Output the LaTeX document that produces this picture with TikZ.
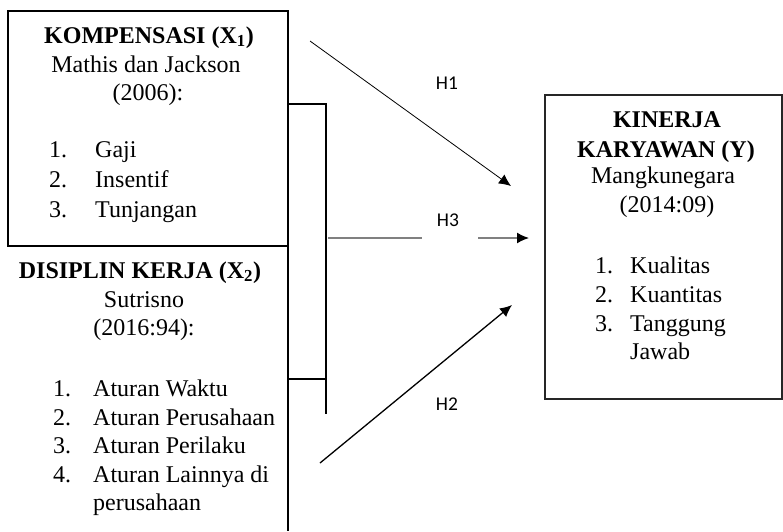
\documentclass[tikz,border=0pt]{standalone}
\usepackage{fontspec}
\setmainfont{Liberation Serif}
\newfontfamily\hypfont{Carlito}
\usetikzlibrary{arrows.meta}
\tikzset{>={Latex[length=12pt,width=11pt]}}
\usepackage{xcolor}
\colorlet{h3gray}{black!50}
\tikzstyle{frame}=[line width=1.8pt]
\tikzstyle{yframe}=[line width=1.1pt,draw=black!85]
\tikzstyle{txt}=[inner sep=0pt,anchor=base,font=\fontsize{24}{29}\selectfont]
\tikzstyle{head}=[txt,font=\fontsize{24}{29}\selectfont\bfseries]
\tikzstyle{item}=[txt,anchor=base west]
\tikzstyle{hyp}=[inner sep=0pt,font=\fontsize{19.5}{23}\selectfont\hypfont]

\begin{document}
\begin{tikzpicture}[x=1pt,y=-1pt]
  \useasboundingbox (0,0) rectangle (783,531);

  \coordinate (X1NW) at (  8,  11); % KOMPENSASI BOX
  \coordinate (X1SE) at (288, 246);
  \coordinate (X2B)  at (288, 531); % DISIPLIN EDGE
  \coordinate (BRT)  at (326, 104); % BRACKET
  \coordinate (BRM)  at (326, 379);
  \coordinate (BRB)  at (326, 414);
  \coordinate (YNW)  at (545,  95); % KINERJA BOX
  \coordinate (YSE)  at (782, 399);
  \coordinate (H1S)  at (310,  41); % ARROWS
  \coordinate (H1E)  at (511, 186);
  \coordinate (H2S)  at (320, 463);
  \coordinate (H2E)  at (512, 305);
  \coordinate (H3S)  at (328, 238);
  \coordinate (H3M1) at (422, 238);
  \coordinate (H3M2) at (478, 238);
  \coordinate (H3E)  at (529, 238);

  % BOXES
  \draw[frame] (X1NW) rectangle (X1SE);
  \draw[frame] (X1SE) -- (X2B);
  \draw[frame] (X1SE |- BRT) -- (BRT) -- (BRB);
  \draw[frame] (X1SE |- BRM) -- (BRM);
  \draw[yframe] (YNW) rectangle (YSE);

  % KOMPENSASI
  \node[head] (x1title) at (149,43) {KOMPENSASI (X\textsubscript{1})};
  \node[txt] (x1src) at (146,72) {Mathis dan Jackson};
  \node[txt] (x1year) at (148,100) {(2006):};
  \foreach \t [count=\i, evaluate={\y=127+30*\i;}] in {Gaji,Insentif,Tunjangan}{
    \node[item] (x1item\i) at (49,\y) {\makebox[46pt][l]{\i.}\t};
  }

  % DISIPLIN KERJA
  \node[head] (x2title) at (140,278) {DISIPLIN KERJA (X\textsubscript{2})};
  \node[txt] (x2src) at (144,307) {Sutrisno};
  \node[txt] (x2year) at (144,335) {(2016:94):};
  \foreach \t [count=\i, evaluate={\y=368.5+28.4*\i;}] in
      {Aturan Waktu,Aturan Perusahaan,Aturan Perilaku,Aturan Lainnya di}{
    \node[item] (x2item\i) at (53,\y) {\makebox[40pt][l]{\i.}\t};
  }
  \node[item] (x2cont) at (93,510.5) {perusahaan};

  % KINERJA KARYAWAN
  \node[head] (ytitle1) at (667,127) {KINERJA};
  \node[head] (ytitle2) at (666,157) {KARYAWAN (Y)};
  \node[txt] (ysrc) at (663,183) {Mangkunegara};
  \node[txt] (yyear) at (667,212) {(2014:09)};
  \foreach \t [count=\i, evaluate={\y=244+29*\i;}] in {Kualitas,Kuantitas,Tanggung}{
    \node[item] (yitem\i) at (595,\y) {\makebox[35pt][l]{\i.}\t};
  }
  \node[item] (ycont) at (630,359) {Jawab};

  % HYPOTHESES
  \draw[line width=0.8pt,->] (H1S) -- (H1E);
  \draw[line width=1.3pt,->] (H2S) -- (H2E);
  \draw[h3gray,line width=1.5pt] (H3S) -- (H3M1);
  \draw[h3gray,line width=1.5pt,-{Latex[length=12pt,width=11pt,color=black]}] (H3M2) -- (H3E);
  \node[hyp] (h1) at (447,83) {H1};
  \node[hyp] (h3) at (448,220) {H3};
  \node[hyp] (h2) at (447,404) {H2};

\end{tikzpicture}
\end{document}
